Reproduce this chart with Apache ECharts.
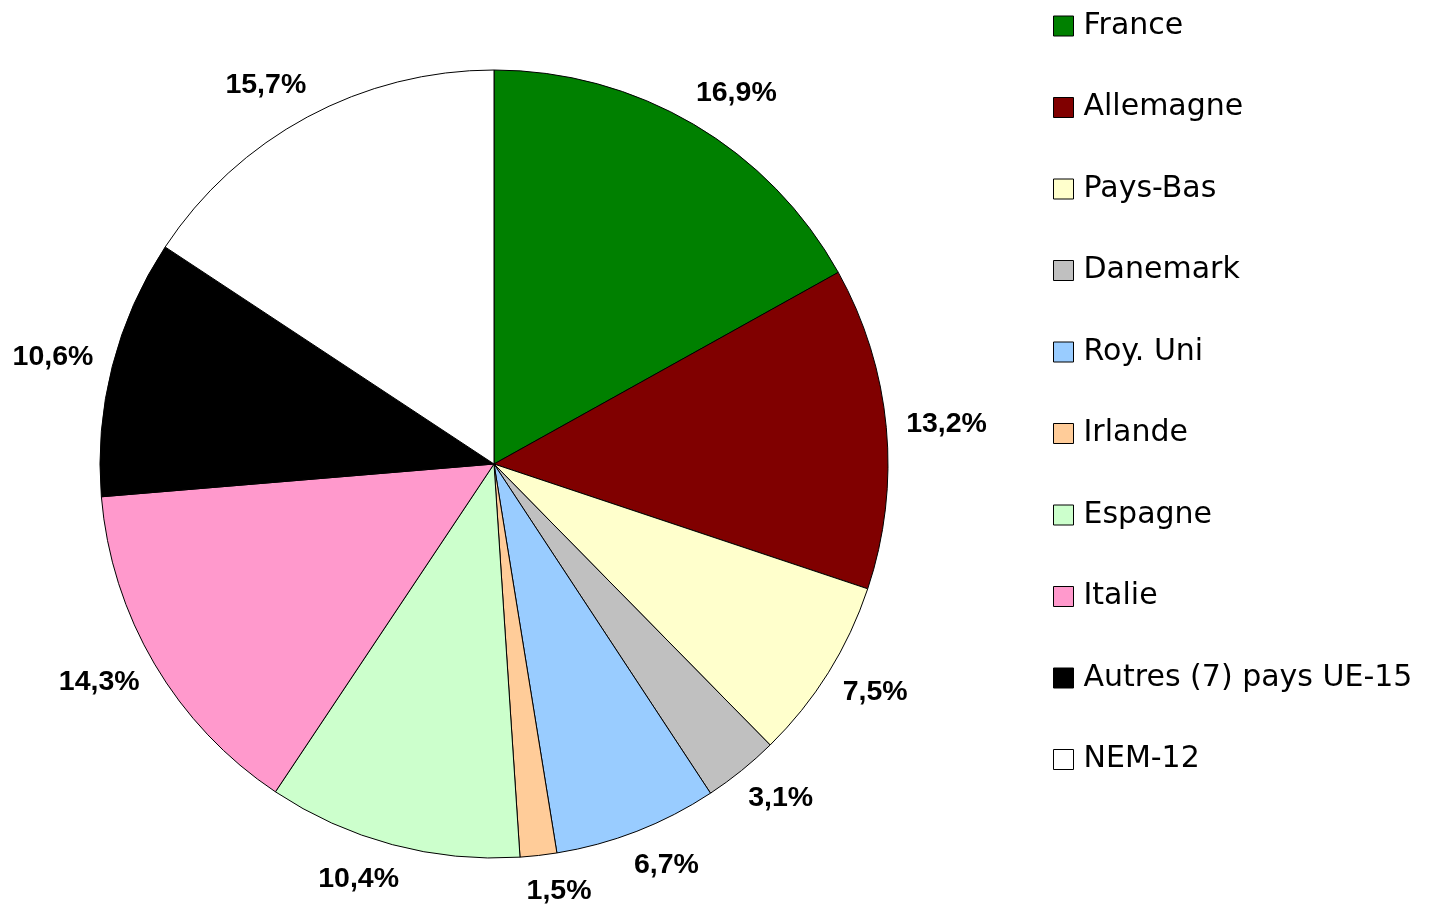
<!DOCTYPE html>
<html>
<head>
<meta charset="utf-8">
<script src="https://cdn.jsdelivr.net/npm/echarts@6/dist/echarts.min.js"></script>
<style>
  html, body { margin: 0; padding: 0; background: #fff; }
  #pie { width: 1431px; height: 906px; }
</style>
</head>
<body>
<div id="pie"></div>
<script>
// pays et parts (%)
var pays = ['France', 'Allemagne', 'Pays-Bas', 'Danemark', 'Roy. Uni', 'Irlande', 'Espagne', 'Italie', 'Autres (7) pays UE-15', 'NEM-12'];
var parts = [16.9, 13.2, 7.5, 3.1, 6.7, 1.5, 10.4, 14.3, 10.6, 15.7];
var couleurs = ['#008000', '#800000', '#FFFFCC', '#C0C0C0', '#99CCFF', '#FFCC99', '#CCFFCC', '#FF99CC', '#000000', '#FFFFFF'];

var data = [];
for (var i = 0; i < pays.length; i++) {
    data.push({ value: parts[i], name: pays[i], itemStyle: { color: couleurs[i] } });
}

var option = {
    animation: false,
    legend: {
        orient: 'vertical',
        left: 1053,
        top: 11,
        padding: 0,
        itemWidth: 20,
        itemHeight: 20,
        itemGap: 51.5,
        icon: 'rect',
        itemStyle: { borderColor: '#000', borderWidth: 1 },
        textStyle: { fontFamily: 'DejaVu Sans', fontSize: 30, color: '#000', lineHeight: 30, padding: [0, 0, 0, 5] },
        data: pays
    },
    series: [
        {
            type: 'pie',
            center: [494, 464],
            radius: 394,
            startAngle: 90,
            clockwise: true,
            avoidLabelOverlap: false,
            itemStyle: { borderColor: '#000', borderWidth: 1 },
            label: {
                show: true,
                position: 'outside',
                distanceToLabelLine: -16,
                fontFamily: 'Liberation Sans',
                fontWeight: 'bold',
                fontSize: 28.5,
                color: '#000',
                formatter: function (p) { return p.value.toFixed(1).replace('.', ',') + '%'; }
            },
            labelLine: { show: false, length: 36, length2: 0 },
            emphasis: { disabled: true },
            data: data
        }
    ]
};

var myChart = echarts.init(document.getElementById('pie'));
myChart.setOption(option);
</script>
</body>
</html>
